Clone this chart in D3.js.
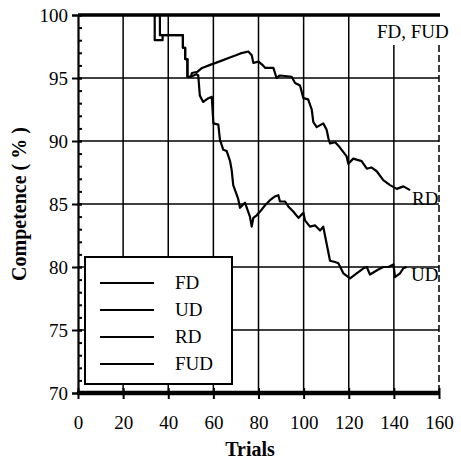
<!DOCTYPE html>
<html>
<head>
<meta charset="utf-8">
<script src="https://cdn.jsdelivr.net/npm/d3@7"></script>
<style>
  body { margin: 0; background: #fff; }
  text { font-family: "Liberation Serif", "Times New Roman", serif; fill: #000; }
</style>
</head>
<body>
<div id="chart"></div>
<script>
var svgWidth = 461;
var svgHeight = 464;

// tick values
var xTicks = [0, 20, 40, 60, 80, 100, 120, 140, 160];
var yTicks = [70, 75, 80, 85, 90, 95, 100];

// FD and FUD stay at 100 the whole run
var fdTrials = [0, 147];
var fdValues = [100, 100];

// RD series (step-like)
var rdTrials = [0, 34, 34, 37.5, 37.5, 46.5, 46.5, 47.5, 47.5, 48.5, 48.5, 50, 50.5, 53, 55, 58, 61, 64, 67, 70, 72, 75.5, 77, 77.7, 80, 82, 83, 86.6, 88, 89.5, 94.7, 96.2, 98.4, 99.9, 102, 103.6, 104.3, 105.8, 108.7, 110.2, 111, 111.7, 114, 116, 119, 119.8, 122, 125.7, 128, 130, 132.4, 135.3, 138.3, 141.3, 144.2, 147.2];
var rdValues = [100, 100, 98.0, 98.0, 98.4, 98.4, 97.4, 97.4, 96.5, 96.5, 95.1, 95.1, 95.4, 95.5, 95.8, 96.0, 96.2, 96.4, 96.6, 96.8, 96.95, 97.1, 96.8, 96.2, 96.3, 96.0, 95.8, 95.8, 95.0, 95.2, 95.1, 94.6, 94.4, 93.4, 93.3, 92.5, 91.5, 91.1, 91.4, 90.9, 90.2, 89.8, 89.9, 89.5, 88.8, 88.2, 88.6, 88.4, 87.8, 87.9, 87.6, 86.9, 86.5, 86.2, 86.4, 86.1];

// UD series
var udTrials = [0, 36.3, 36.3, 46.5, 46.5, 47.5, 47.5, 48.5, 48.5, 50, 52.5, 53.3, 54, 55.5, 57.8, 59.3, 60, 62.2, 62.9, 64.4, 65.9, 67.4, 68.1, 68.8, 69.6, 71, 71.8, 74, 76.2, 77, 77.7, 79.2, 80.7, 82.9, 85.1, 87.3, 88.8, 89.5, 91.8, 93.2, 95.4, 97.7, 99.9, 100.6, 102.8, 105.1, 107.3, 108.7, 111.7, 113.9, 115.4, 117.6, 120.6, 123.5, 126.5, 128, 129.4, 133.1, 135.3, 137.6, 139.8, 140.5, 142.7, 144.2, 145.7];
var udValues = [100, 100, 98.4, 98.4, 97.4, 97.4, 96.5, 96.5, 95.1, 95.1, 95.3, 95.2, 93.6, 93.1, 93.4, 93.5, 91.4, 91.3, 90.1, 89.3, 89.2, 88.4, 87.7, 86.5, 86.1, 85.4, 84.7, 85.1, 84.0, 83.2, 83.9, 84.1, 84.4, 84.9, 85.3, 85.6, 85.7, 85.2, 85.2, 84.8, 84.4, 83.9, 84.3, 83.7, 83.2, 83.3, 82.9, 83.2, 80.5, 80.4, 80.3, 79.5, 79.1, 79.5, 79.9, 80.0, 79.4, 79.8, 80.0, 80.0, 80.2, 79.2, 79.5, 79.9, 80.0];

var legendNames = ["FD", "UD", "RD", "FUD"];

var svg = d3.select("#chart")
  .append("svg")
  .attr("width", svgWidth)
  .attr("height", svgHeight);

var x = d3.scaleLinear().domain([0, 160]).range([78, 439]);
var y = d3.scaleLinear().domain([70, 100]).range([393, 15]);

// horizontal grid lines
svg.append("g")
  .selectAll("line")
  .data([75, 80, 85, 90, 95])
  .enter()
  .append("line")
  .attr("x1", x(0)).attr("x2", x(160))
  .attr("y1", d => y(d)).attr("y2", d => y(d))
  .attr("stroke", "#000").attr("stroke-width", 1.5);

// vertical grid lines
svg.append("g")
  .selectAll("line")
  .data([20, 40, 60, 80, 100, 120, 140])
  .enter()
  .append("line")
  .attr("x1", d => x(d)).attr("x2", d => x(d))
  .attr("y1", d => d == 140 ? 45 : y(100)).attr("y2", y(70))
  .attr("stroke", "#000").attr("stroke-width", 1.5);

// right edge, dashed
svg.append("line")
  .attr("x1", x(160)).attr("x2", x(160))
  .attr("y1", 45).attr("y2", y(70))
  .attr("stroke", "#000").attr("stroke-width", 1.5)
  .attr("stroke-dasharray", "7,3");

// data lines
var line = d3.line()
  .x(d => x(d[0]))
  .y(d => y(d[1]));

var series = [
  [fdTrials, fdValues],
  [rdTrials, rdValues],
  [udTrials, udValues]
];
series.forEach(s => {
  svg.append("path")
    .datum(s[0].map((t, i) => [t, s[1][i]]))
    .attr("d", line)
    .attr("fill", "none")
    .attr("stroke", "#000")
    .attr("stroke-width", 2.2)
    .attr("stroke-linejoin", "round");
});

// top border (also FD/FUD line)
svg.append("line")
  .attr("x1", x(0)).attr("x2", x(160) + 1)
  .attr("y1", y(100)).attr("y2", y(100))
  .attr("stroke", "#000").attr("stroke-width", 3.5);

// y axis, major
var yAxis = svg.append("g")
  .attr("transform", `translate(${x(0)},0)`)
  .call(d3.axisLeft(y).tickValues(yTicks).tickSize(6).tickPadding(4));
yAxis.select(".domain").attr("stroke-width", 2.2);
yAxis.selectAll(".tick line").attr("stroke-width", 2).attr("x2", -6).attr("x1", 4);
yAxis.selectAll("text")
  .style("font-family", "'Liberation Serif', serif")
  .style("font-size", "19px")
  .attr("dy", "0.36em");

// y axis, minor ticks inward
var yMinor = svg.append("g")
  .attr("transform", `translate(${x(0)},0)`)
  .call(d3.axisLeft(y).tickValues(d3.range(70, 101)).tickSize(-4).tickFormat(""));
yMinor.select(".domain").remove();
yMinor.selectAll(".tick line").attr("stroke-width", 2);

// x axis
var xAxis = svg.append("g")
  .attr("transform", `translate(0,${y(70)})`)
  .call(d3.axisBottom(x).tickValues(xTicks).tickSize(6).tickPadding(17));
xAxis.select(".domain").remove();
xAxis.selectAll(".tick line").attr("y1", -5).attr("y2", 6).attr("stroke-width", 2);
xAxis.selectAll("text")
  .style("font-family", "'Liberation Serif', serif")
  .style("font-size", "19px");
svg.append("line")
  .attr("x1", x(0) - 1).attr("x2", x(160) + 1)
  .attr("y1", y(70)).attr("y2", y(70))
  .attr("stroke", "#000").attr("stroke-width", 4.5);

// axis titles
svg.append("text")
  .attr("x", 250).attr("y", 456)
  .attr("text-anchor", "middle")
  .style("font-size", "20px")
  .style("font-weight", "bold")
  .text("Trials");

svg.append("text")
  .attr("transform", "translate(26,204) rotate(-90)")
  .attr("text-anchor", "middle")
  .style("font-size", "20px")
  .style("font-weight", "bold")
  .text("Competence ( % )");

// line labels
svg.append("text").attr("x", 377).attr("y", 38).style("font-size", "19px").text("FD, FUD");
svg.append("text").attr("x", 412).attr("y", 205).style("font-size", "19px").text("RD");
svg.append("text").attr("x", 411).attr("y", 281).style("font-size", "19px").text("UD");

// legend
var legend = svg.append("g");
legend.append("rect")
  .attr("x", 85).attr("y", 257)
  .attr("width", 147).attr("height", 127)
  .attr("fill", "#fff")
  .attr("stroke", "#000")
  .attr("stroke-width", 2);

var rows = legend.selectAll("g.row")
  .data(legendNames)
  .enter()
  .append("g")
  .attr("class", "row")
  .attr("transform", (d, i) => `translate(0,${283 + i * 27})`);
rows.append("line")
  .attr("x1", 100).attr("x2", 154)
  .attr("y1", 0).attr("y2", 0)
  .attr("stroke", "#000").attr("stroke-width", 2);
rows.append("text")
  .attr("x", 175).attr("y", 6)
  .style("font-size", "19px")
  .text(d => d);
</script>
</body>
</html>
